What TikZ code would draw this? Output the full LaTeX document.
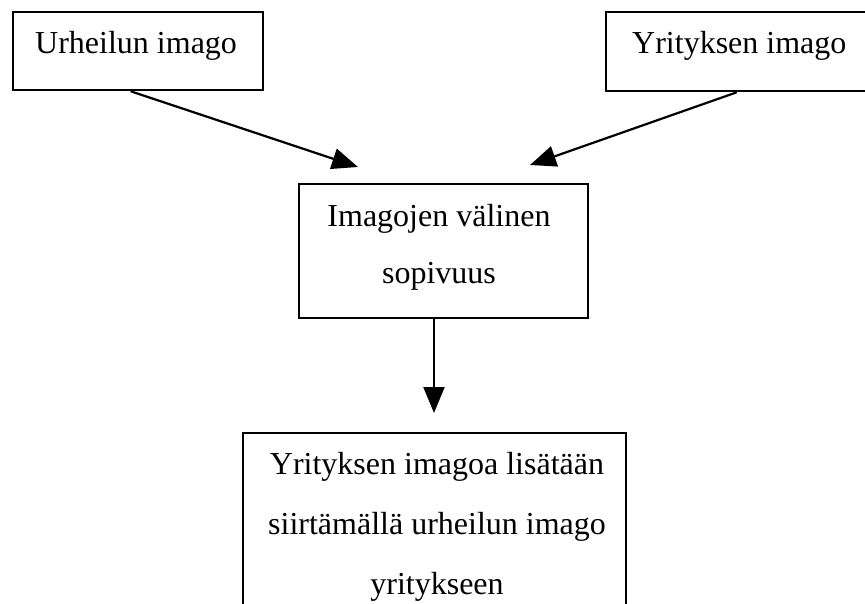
\documentclass[tikz,border=0pt]{standalone}
\usepackage{fontspec}
\setmainfont{Liberation Serif}
\usetikzlibrary{arrows.meta}
\begin{document}
\begin{tikzpicture}[x=1pt,y=-1pt,
  box/.style={draw,line width=2.6pt,inner sep=0pt},
  label/.style={inner sep=0pt,font=\fontsize{32}{57}\selectfont},
  flow/.style={line width=2.2pt,-{Triangle[length=26pt,width=21pt]}}]
\useasboundingbox (0,0) rectangle (865,603);
\clip (0,0) rectangle (865,603);

% two source boxes at the top
\node[box,minimum width=250pt,minimum height=78pt] (sport) at (138,51) {};
\node[label,anchor=base west] (sporttxt) at (35,53) {Urheilun imago};
\node[box,minimum width=300pt,minimum height=79pt] (firm) at (756,51.5) {};
\node[label,anchor=base west] (firmtxt) at (632,53) {Yrityksen imago};

% middle box
\node[box,minimum width=289pt,minimum height=134pt] (fit) at (443.5,251) {};
\node[label,align=center,anchor=north] (fittxt) at (439,204) {Imagojen välinen\\sopivuus};

% result box, running past the lower edge
\node[box,minimum width=383pt,minimum height=220pt] (result) at (434.5,543) {};
\node[label,align=center,anchor=north,font=\fontsize{32}{60}\selectfont] (resulttxt) at (437,452) {Yrityksen imagoa lisätään\\siirtämällä urheilun imago\\yritykseen};

% connectors
\coordinate (tip1) at (358,167);
\coordinate (tip2) at (530,165);
\coordinate (tip3) at (434,413);
\draw[flow] ([xshift=119pt]sport.south west) -- (tip1);
\draw[flow] ([xshift=132pt]firm.south west) -- (tip2);
\draw[flow] (fit.south -| tip3) -- (tip3);
\end{tikzpicture}
\end{document}
